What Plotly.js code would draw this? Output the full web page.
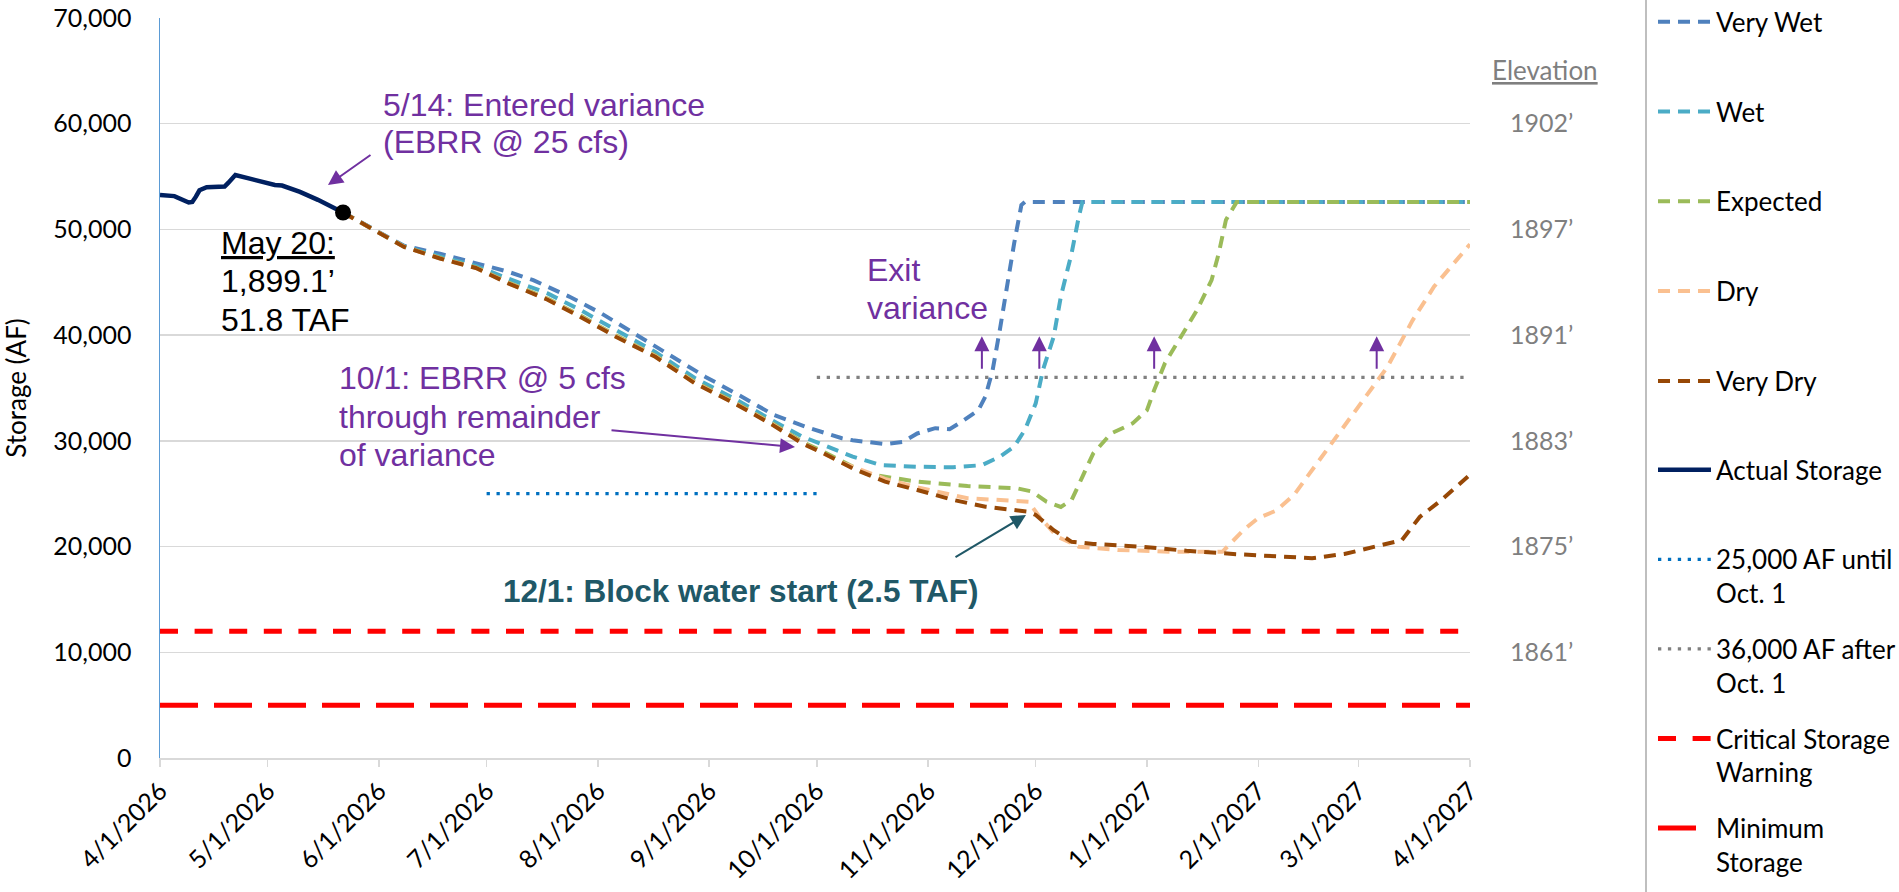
<!DOCTYPE html>
<html>
<head>
<meta charset="utf-8">
<script src="https://cdn.plot.ly/plotly-3.0.1.min.js"></script>
<style>html,body{margin:0;padding:0;background:#fff;}#chart{width:1899px;height:892px;}</style>
</head>
<body>
<div id="chart"></div>
<script>
// ---------------- DATA ----------------
const tickDates = ['2026-04-01','2026-05-01','2026-06-01','2026-07-01','2026-08-01','2026-09-01','2026-10-01','2026-11-01','2026-12-01','2027-01-01','2027-02-01','2027-03-01','2027-04-01'];
const tickLabels = ['4/1/2026','5/1/2026','6/1/2026','7/1/2026','8/1/2026','9/1/2026','10/1/2026','11/1/2026','12/1/2026','1/1/2027','2/1/2027','3/1/2027','4/1/2027'];

const elevationTickValues = [60000, 50000, 40000, 30000, 20000, 10000];
const elevationLabels = ['1902\u2019', '1897\u2019', '1891\u2019', '1883\u2019', '1875\u2019', '1861\u2019'];

const actualDates = ['2026-04-01','2026-04-03','2026-04-05','2026-04-09','2026-04-10','2026-04-11','2026-04-12','2026-04-14','2026-04-19','2026-04-20','2026-04-22','2026-04-26','2026-05-03','2026-05-05','2026-05-10','2026-05-15','2026-05-22'];
const actualStorage = [53250,53250,53150,52550,52600,53100,53700,54000,54050,54400,55150,54800,54200,54150,53550,52800,51600];

const currentDate = ['2026-05-22'];
const currentStorage = [51600];

const veryWetDates = ['2026-05-22','2026-05-29','2026-06-08','2026-06-18','2026-06-26','2026-07-07','2026-07-14','2026-07-24','2026-08-02','2026-08-11','2026-08-21','2026-08-31','2026-09-10','2026-09-19','2026-09-29','2026-10-08','2026-10-11','2026-10-20','2026-10-25','2026-10-29','2026-11-03','2026-11-07','2026-11-11','2026-11-15','2026-11-17','2026-11-19','2026-11-21','2026-11-23','2026-11-25','2026-11-27','2026-11-28','2027-04-01'];
const veryWet = [51600,50300,48450,47700,46950,46000,45200,43650,42050,40200,38100,36050,34200,32450,31200,30250,30050,29700,29900,30700,31200,31100,31950,32900,34200,36700,40500,44900,48700,52300,52600,52600];

const wetDates = ['2026-05-22','2026-05-29','2026-06-08','2026-06-18','2026-06-28','2026-07-07','2026-07-18','2026-07-27','2026-08-06','2026-08-17','2026-08-28','2026-09-08','2026-09-18','2026-09-27','2026-10-03','2026-10-11','2026-10-19','2026-10-29','2026-11-08','2026-11-16','2026-11-21','2026-11-25','2026-11-28','2026-12-01','2026-12-03','2026-12-06','2026-12-08','2026-12-11','2026-12-13','2026-12-14','2027-04-01'];
const wet = [51600,50270,48400,47450,46550,45350,43950,42400,40450,38400,35950,34000,32050,30400,29600,28500,27700,27550,27500,27700,28500,29450,31050,33550,36700,39850,43650,47750,51200,52600,52600];

const expectedDates = ['2026-05-22','2026-05-29','2026-06-08','2026-06-18','2026-06-28','2026-07-07','2026-07-18','2026-07-27','2026-08-06','2026-08-17','2026-08-28','2026-09-08','2026-09-18','2026-09-27','2026-10-03','2026-10-15','2026-10-29','2026-11-12','2026-11-26','2026-11-30','2026-12-04','2026-12-08','2026-12-11','2026-12-14','2026-12-17','2026-12-22','2026-12-28','2027-01-01','2027-01-03','2027-01-06','2027-01-10','2027-01-15','2027-01-19','2027-01-21','2027-01-23','2027-01-26','2027-04-01'];
const expected = [51600,50260,48370,47300,46420,45000,43450,41880,39980,38080,35580,33680,31780,29900,28950,26870,26140,25730,25500,25200,24250,23750,24400,26600,28800,30700,31650,32900,34800,37350,39550,42400,45200,47750,50900,52600,52600];

const dryDates = ['2026-05-22','2026-05-29','2026-06-08','2026-06-18','2026-06-28','2026-07-07','2026-07-18','2026-07-27','2026-08-06','2026-08-17','2026-08-28','2026-09-08','2026-09-18','2026-09-27','2026-10-08','2026-10-20','2026-10-29','2026-11-12','2026-11-29','2026-12-02','2026-12-07','2026-12-13','2026-12-24','2027-01-07','2027-01-22','2027-01-28','2027-02-01','2027-02-06','2027-02-11','2027-02-17','2027-02-23','2027-03-03','2027-03-09','2027-03-16','2027-03-22','2027-03-26','2027-04-01'];
const dry = [51600,50250,48360,47260,46370,44930,43380,41790,39900,38000,35500,33600,31700,29800,27950,26400,25600,24570,24250,22830,20940,19990,19680,19520,19500,21600,22700,23400,24900,27700,30500,34200,37000,41400,44600,46200,48600];

const veryDryDates = ['2026-05-22','2026-05-29','2026-06-08','2026-06-18','2026-06-28','2026-07-07','2026-07-18','2026-07-27','2026-08-06','2026-08-17','2026-08-28','2026-09-08','2026-09-18','2026-09-27','2026-10-03','2026-10-11','2026-10-20','2026-10-29','2026-11-08','2026-11-17','2026-11-26','2026-11-29','2026-12-01','2026-12-06','2026-12-11','2026-12-17','2026-12-30','2027-01-12','2027-01-25','2027-02-06','2027-02-16','2027-02-25','2027-03-06','2027-03-13','2027-03-18','2027-03-24','2027-04-01'];
const veryDry = [51600,50250,48350,47250,46350,44900,43350,41750,39850,37950,35450,33550,31650,29750,28800,27400,26140,25350,24410,23770,23460,23300,22990,21550,20450,20250,20000,19600,19300,19100,18900,19300,20000,20600,22800,24400,26800];

const until25Dates = ['2026-07-01','2026-10-01'];
const until25Storage = [25000, 25000];
const after36Dates = ['2026-10-01','2027-04-01'];
const after36Storage = [36000, 36000];
const criticalDates = ['2026-04-01','2027-04-01'];
const criticalStorage = [12000, 12000];
const minimumDates = ['2026-04-01','2027-04-01'];
const minimumStorage = [5000, 5000];

const exitArrowDates = ['2026-11-16','2026-12-02','2027-01-03','2027-03-06'];

// ---------------- LAYOUT HELPERS ----------------
const L = 160, R = 1470, T = 18, B = 758;
const px = x => (x - L) / (R - L);
const py = y => (B - y) / (B - T);

const PURPLE = '#7030A0';
const TEAL = '#205867';
const ARIAL = 'Liberation Sans, Arial, sans-serif';
const CAL = 'Lato, Carlito, Calibri, sans-serif';

function fc(name, xs, ys, color){
  return {type:'scatter', mode:'lines', name: name, legend:'legend', legendgroup: name, x: xs, y: ys,
          line:{color: color, width: 4, dash:'12px,8px'}};
}

const traces = [
  fc('Very Wet', veryWetDates, veryWet, '#4F81BD'),
  fc('Wet', wetDates, wet, '#4BACC6'),
  fc('Expected', expectedDates, expected, '#9BBB59'),
  fc('Dry', dryDates, dry, '#FAC090'),
  fc('Very Dry', veryDryDates, veryDry, '#974806'),
  {type:'scatter', mode:'lines', name:'Actual Storage<br>&nbsp;', legend:'legend2', legendgroup:'a', x: actualDates, y: actualStorage,
   line:{color:'#002060', width:4.5}},
  {type:'scatter', mode:'lines', name:'25,000 AF until<br>Oct. 1', legend:'legend2', legendgroup:'b', x: until25Dates, y: until25Storage,
   line:{color:'#0070C0', width:3.3, dash:'3.3px,6.6px'}},
  {type:'scatter', mode:'lines', name:'36,000 AF after<br>Oct. 1', legend:'legend2', legendgroup:'c', x: after36Dates, y: after36Storage,
   line:{color:'#808080', width:3.3, dash:'3.3px,6.6px'}},
  {type:'scatter', mode:'lines', name:'Critical Storage<br>Warning', legend:'legend2', legendgroup:'d', x: criticalDates, y: criticalStorage,
   line:{color:'#FF0000', width:5, dash:'18px,16.6px'}},
  {type:'scatter', mode:'lines', name:'Minimum<br>Storage', legend:'legend2', legendgroup:'e', x: minimumDates, y: minimumStorage,
   yaxis:'y2', line:{color:'#FF0000', width:5, dash:'38px,16px'}},
  {type:'scatter', mode:'markers', name:'May 20', showlegend:false, x: currentDate, y: currentStorage,
   marker:{color:'#000000', size:16}}
];

function txt(text, x, y, color, opts){
  return Object.assign({xref:'paper', yref:'paper', x: px(x), y: py(y), text: text, showarrow:false,
    xanchor:'left', yanchor:'middle', font:{family: ARIAL, size: 32, color: color}}, opts || {});
}
function arrow(hx, hy, tx, ty, color){
  return {xref:'paper', yref:'paper', x: px(hx), y: py(hy), ax: tx - hx, ay: ty - hy, text:'',
    showarrow:true, arrowhead:2, arrowsize:1.5, arrowwidth:2, arrowcolor: color};
}

const annotations = [
  txt('5/14: Entered variance', 381, 105, PURPLE),
  txt('(EBRR @ 25 cfs)', 381, 142, PURPLE),
  arrow(328, 185, 372, 154, PURPLE),
  txt('<u>May 20:</u>', 219, 243, '#000000'),
  txt('1,899.1\u2019', 219, 281, '#000000'),
  txt('51.8 TAF', 219, 320, '#000000'),
  txt('10/1: EBRR @ 5 cfs', 337, 378, PURPLE),
  txt('through remainder', 337, 417, PURPLE),
  txt('of variance', 337, 455, PURPLE),
  arrow(795, 447, 610, 430, PURPLE),
  txt('Exit', 865, 270, PURPLE),
  txt('variance', 865, 308, PURPLE),
  txt('<b>12/1: Block water start (2.5 TAF)</b>', 741, 591, TEAL, {xanchor:'center', font:{family: ARIAL, size: 31.5, color: TEAL}}),
  arrow(1026, 515, 954, 558, TEAL),
  txt('<u>Elevation</u>', 1545, 70, '#7F7F7F', {xanchor:'center', font:{family: CAL, size: 26, color:'#7F7F7F'}})
];
exitArrowDates.forEach(d => {
  annotations.push({xref:'x', yref:'y', x: d, y: 39900, ax: 0, ay: 34, text:'', showarrow:true,
    arrowhead:2, arrowsize:1.5, arrowwidth:2, arrowcolor: PURPLE});
});

const legendCommon = {
  xanchor: 'left', yanchor: 'top', valign: 'top', traceorder: 'grouped',
  font: {family: CAL, size: 26, color: '#000000'},
  bgcolor: 'rgba(0,0,0,0)', itemwidth: 53
};

const layout = {
  width: 1899, height: 892,
  margin: {l: L, r: 1899 - R, t: T, b: 892 - B, pad: 0, autoexpand: false},
  paper_bgcolor: '#ffffff', plot_bgcolor: '#ffffff',
  font: {family: CAL, size: 25, color: '#000000'},
  showlegend: true,
  xaxis: {
    type: 'date', range: ['2026-04-01', '2027-04-01'],
    tickmode: 'array', tickvals: tickDates, ticktext: tickLabels, tickangle: -45,
    tickfont: {family: CAL, size: 25, color: '#000000'},
    showgrid: false, zeroline: false,
    showline: true, linecolor: '#D9D9D9', linewidth: 1.5,
    ticks: 'outside', ticklen: 7, tickcolor: '#D9D9D9', tickwidth: 1.5
  },
  yaxis: {
    range: [0, 70000], dtick: 10000, tickformat: ',',
    tickfont: {family: CAL, size: 25, color: '#000000'},
    showgrid: true, gridcolor: '#D9D9D9', gridwidth: 1.5,
    zeroline: false, showline: true, linecolor: '#5B9BD5', linewidth: 1.5,
    ticks: '', ticklabelstandoff: 22,
    title: {text: 'Storage (AF)', font: {family: CAL, size: 26, color: '#000000'}, standoff: 20}
  },
  yaxis2: {
    overlaying: 'y', side: 'right', range: [0, 70000],
    tickmode: 'array', tickvals: elevationTickValues, ticktext: elevationLabels,
    tickfont: {family: CAL, size: 25, color: '#7F7F7F'},
    showgrid: false, zeroline: false, showline: false, ticks: '', ticklabelstandoff: 39
  },
  legend: Object.assign({}, legendCommon, {x: px(1653), y: py(-1.7), tracegroupgap: 53}),
  legend2: Object.assign({}, legendCommon, {x: px(1653), y: py(446.3), tracegroupgap: 19}),
  shapes: [
    {type:'line', xref:'paper', yref:'paper', x0: px(1646), x1: px(1646), y0: py(0), y1: py(892),
     line:{color:'#BFBFBF', width:2}}
  ],
  annotations: annotations
};

Plotly.newPlot('chart', traces, layout, {displayModeBar: false, staticPlot: true});
</script>
</body>
</html>
